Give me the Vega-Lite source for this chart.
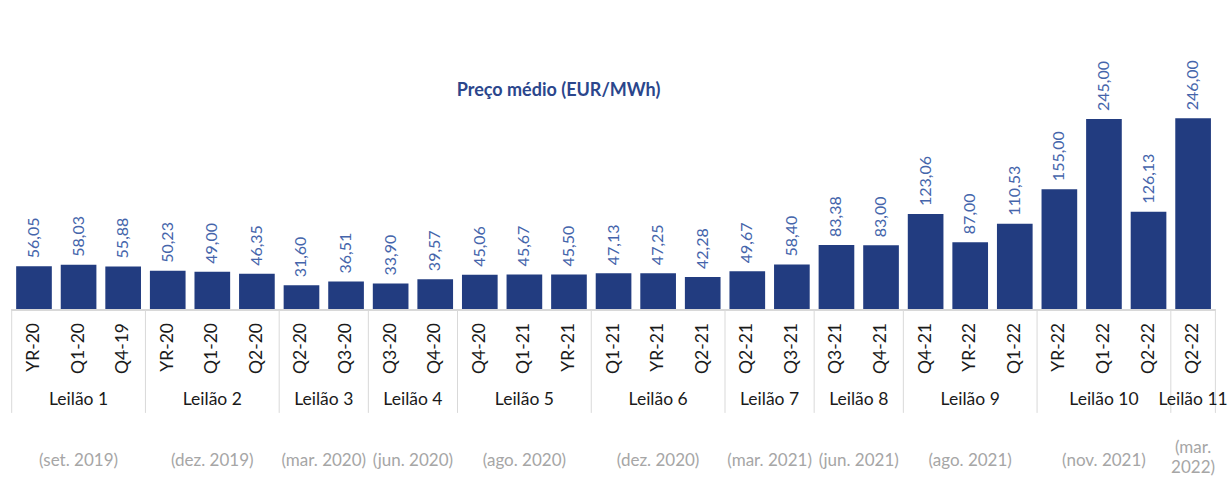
{
  "$schema": "https://vega.github.io/schema/vega-lite/v6.json",
  "autosize": {"type": "none"},
  "width": 1203.7,
  "height": 438,
  "padding": {"left": 11.7, "top": 40, "right": 14.6, "bottom": 0},
  "background": "white",
  "title": {
    "text": "Preço médio (EUR/MWh)",
    "fontSize": 18,
    "fontWeight": "bold",
    "color": "#2B468C",
    "font": "Lato",
    "anchor": "middle",
    "dx": -55,
    "dy": 69,
    "baseline": "middle",
    "offset": 0
  },
  "config": {
    "view": {"stroke": null},
    "font": "Lato",
    "locale": {"number": {"decimal": ",", "thousands": ".", "grouping": [3], "currency": ["", " €"]}}
  },
  "data": {
    "values": [
      {"group": "Leilão 1", "date": "(set. 2019)", "product": "YR-20", "price": 56.05},
      {"group": "Leilão 1", "date": "(set. 2019)", "product": "Q1-20", "price": 58.03},
      {"group": "Leilão 1", "date": "(set. 2019)", "product": "Q4-19", "price": 55.88},
      {"group": "Leilão 2", "date": "(dez. 2019)", "product": "YR-20", "price": 50.23},
      {"group": "Leilão 2", "date": "(dez. 2019)", "product": "Q1-20", "price": 49.00},
      {"group": "Leilão 2", "date": "(dez. 2019)", "product": "Q2-20", "price": 46.35},
      {"group": "Leilão 3", "date": "(mar. 2020)", "product": "Q2-20", "price": 31.60},
      {"group": "Leilão 3", "date": "(mar. 2020)", "product": "Q3-20", "price": 36.51},
      {"group": "Leilão 4", "date": "(jun. 2020)", "product": "Q3-20", "price": 33.90},
      {"group": "Leilão 4", "date": "(jun. 2020)", "product": "Q4-20", "price": 39.57},
      {"group": "Leilão 5", "date": "(ago. 2020)", "product": "Q4-20", "price": 45.06},
      {"group": "Leilão 5", "date": "(ago. 2020)", "product": "Q1-21", "price": 45.67},
      {"group": "Leilão 5", "date": "(ago. 2020)", "product": "YR-21", "price": 45.50},
      {"group": "Leilão 6", "date": "(dez. 2020)", "product": "Q1-21", "price": 47.13},
      {"group": "Leilão 6", "date": "(dez. 2020)", "product": "YR-21", "price": 47.25},
      {"group": "Leilão 6", "date": "(dez. 2020)", "product": "Q2-21", "price": 42.28},
      {"group": "Leilão 7", "date": "(mar. 2021)", "product": "Q2-21", "price": 49.67},
      {"group": "Leilão 7", "date": "(mar. 2021)", "product": "Q3-21", "price": 58.40},
      {"group": "Leilão 8", "date": "(jun. 2021)", "product": "Q3-21", "price": 83.38},
      {"group": "Leilão 8", "date": "(jun. 2021)", "product": "Q4-21", "price": 83.00},
      {"group": "Leilão 9", "date": "(ago. 2021)", "product": "Q4-21", "price": 123.06},
      {"group": "Leilão 9", "date": "(ago. 2021)", "product": "YR-22", "price": 87.00},
      {"group": "Leilão 9", "date": "(ago. 2021)", "product": "Q1-22", "price": 110.53},
      {"group": "Leilão 10", "date": "(nov. 2021)", "product": "YR-22", "price": 155.00},
      {"group": "Leilão 10", "date": "(nov. 2021)", "product": "Q1-22", "price": 245.00},
      {"group": "Leilão 10", "date": "(nov. 2021)", "product": "Q2-22", "price": 126.13},
      {"group": "Leilão 11", "date": "(mar.\n2022)", "product": "Q2-22", "price": 246.00}
    ]
  },
  "transform": [
    {"window": [{"op": "row_number", "as": "i"}]},
    {"calculate": "datum.i - 0.5", "as": "xc"}
  ],
  "encoding": {
    "x": {"type": "quantitative", "scale": {"domain": [0, 27], "nice": false, "zero": false}, "axis": null},
    "y": {"type": "quantitative", "scale": {"domain": [-215.5, 346.3], "nice": false, "zero": false}, "axis": null}
  },
  "layer": [
    {
      "transform": [
        {"calculate": "datum.i - 0.9", "as": "x0"},
        {"calculate": "datum.i - 0.1", "as": "x1"}
      ],
      "mark": {"type": "bar", "color": "#223C80"},
      "encoding": {
        "x": {"field": "x0", "type": "quantitative"},
        "x2": {"field": "x1"},
        "y": {"field": "price", "type": "quantitative"},
        "y2": {"datum": 0}
      }
    },
    {
      "mark": {"type": "rule", "color": "#D9D9D9", "strokeWidth": 1},
      "encoding": {
        "x": {"datum": 0},
        "x2": {"datum": 27},
        "y": {"datum": 0}
      }
    },
    {
      "transform": [
        {"aggregate": [{"op": "min", "field": "i", "as": "imin"}], "groupby": ["group"]},
        {"calculate": "datum.imin - 1", "as": "start"}
      ],
      "mark": {"type": "rule", "color": "#D9D9D9", "strokeWidth": 1},
      "encoding": {
        "x": {"field": "start", "type": "quantitative"},
        "y": {"datum": 0},
        "y2": {"datum": -132}
      }
    },
    {
      "transform": [
        {"aggregate": [{"op": "max", "field": "i", "as": "imax"}], "groupby": ["group"]},
        {"filter": "datum.imax == 27"}
      ],
      "mark": {"type": "rule", "color": "#D9D9D9", "strokeWidth": 1},
      "encoding": {
        "x": {"field": "imax", "type": "quantitative"},
        "y": {"datum": 0},
        "y2": {"datum": -132}
      }
    },
    {
      "mark": {"type": "text", "angle": 270, "align": "left", "baseline": "middle", "dx": 8, "fontSize": 16, "color": "#4565AB"},
      "encoding": {
        "x": {"field": "xc", "type": "quantitative"},
        "y": {"field": "price", "type": "quantitative"},
        "text": {"field": "price", "type": "quantitative", "format": ".2f"}
      }
    },
    {
      "mark": {"type": "text", "angle": 270, "align": "right", "baseline": "middle", "fontSize": 17.5, "color": "#1A1A1A"},
      "encoding": {
        "x": {"field": "xc", "type": "quantitative"},
        "y": {"datum": -16.7},
        "text": {"field": "product", "type": "nominal"}
      }
    },
    {
      "transform": [
        {"aggregate": [{"op": "min", "field": "i", "as": "imin"}, {"op": "max", "field": "i", "as": "imax"}], "groupby": ["group", "date"]},
        {"calculate": "(datum.imin - 1 + datum.imax) / 2", "as": "gc"}
      ],
      "layer": [
        {
          "mark": {"type": "text", "baseline": "middle", "align": "center", "fontSize": 17.5, "color": "#1A1A1A"},
          "encoding": {
            "x": {"field": "gc", "type": "quantitative"},
            "y": {"datum": -115.4},
            "text": {"field": "group", "type": "nominal"}
          }
        },
        {
          "transform": [{"filter": "indexof(datum.date, '\\n') < 0"}],
          "mark": {"type": "text", "baseline": "middle", "align": "center", "fontSize": 17, "color": "#A6A6A6"},
          "encoding": {
            "x": {"field": "gc", "type": "quantitative"},
            "y": {"datum": -193.7},
            "text": {"field": "date", "type": "nominal"}
          }
        },
        {
          "transform": [{"filter": "indexof(datum.date, '\\n') >= 0"}],
          "mark": {"type": "text", "baseline": "middle", "align": "center", "fontSize": 17, "color": "#A6A6A6", "lineBreak": "\n", "lineHeight": 20, "dy": -13},
          "encoding": {
            "x": {"field": "gc", "type": "quantitative"},
            "y": {"datum": -193.7},
            "text": {"field": "date", "type": "nominal"}
          }
        }
      ]
    }
  ]
}
